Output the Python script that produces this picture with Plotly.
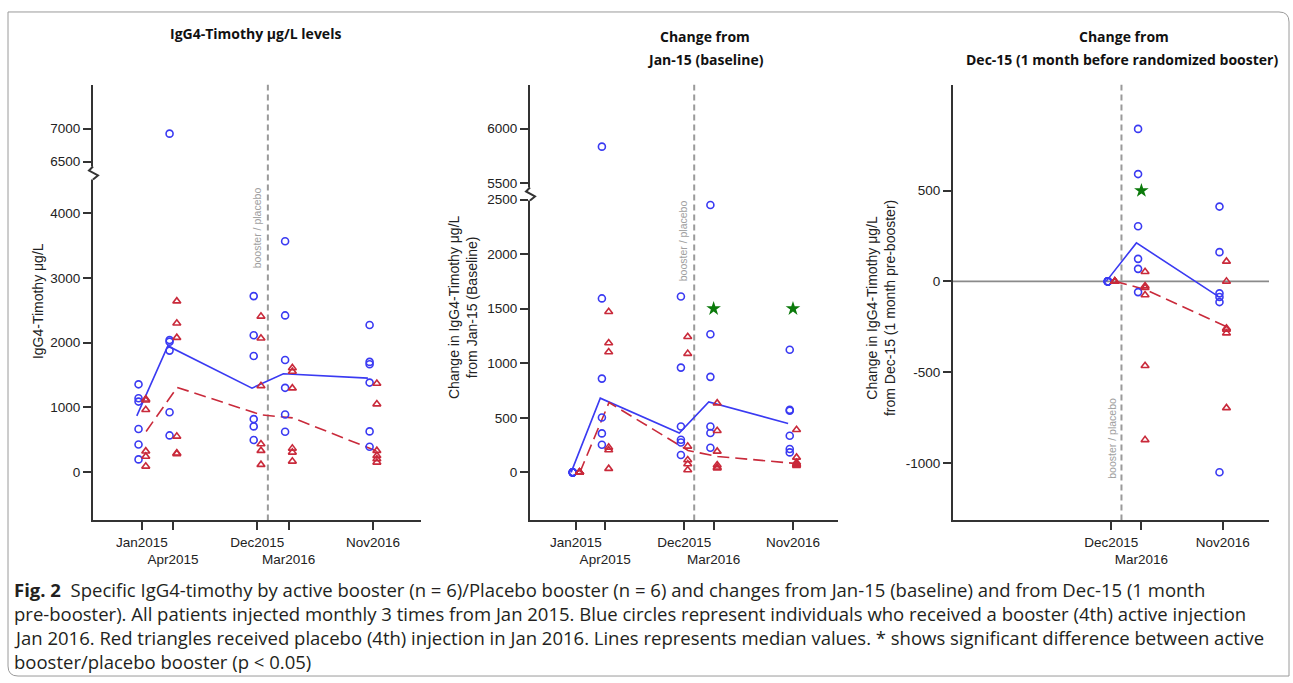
import pandas as pd
import plotly.graph_objects as go

W, H = 1293, 683


def fx(x):
    return x / W


def fy(y):
    return 1 - y / H


# ---------------- data ----------------
visit_dates = ["2015-01-01", "2015-04-01", "2015-12-01", "2016-03-01", "2016-11-01"]
visit_labels = ["Jan2015", "Apr2015", "Dec2015", "Mar2016", "Nov2016"]
post_dates = ["2015-12-01", "2016-03-01", "2016-11-01"]
post_labels = ["Dec2015", "Mar2016", "Nov2016"]
booster_date = "2016-01-01"

# Panel 1: IgG4-Timothy levels (µg/L)
p1_active = [
    [1357, 1143, 1091, 669, 428, 199],
    [6924, 2040, 2015, 1877, 927, 569],
    [2718, 2113, 1795, 821, 708, 498],
    [3565, 2420, 1733, 1303, 892, 626],
    [2272, 1703, 1667, 1384, 631, 395],
]
p1_placebo = [
    [1128, 1112, 964, 326, 245, 92],
    [2640, 2300, 2077, 554, 295, 285],
    [2405, 2067, 1333, 437, 334, 118],
    [1610, 1555, 1298, 369, 308, 169],
    [1369, 1052, 334, 257, 206, 154],
]
p1_active_median = [870, 1949, 1298, 1520, 1452]
p1_placebo_median = [630, 1310, 885, 840, 325]

# Panel 2: change from Jan-15
p2_active = [
    [0, 0, 0, 0, 0, 0],
    [5835, 1594, 859, 503, 357, 253],
    [1612, 960, 420, 299, 274, 159],
    [2450, 1265, 875, 420, 360, 226],
    [1124, 573, 564, 335, 214, 183],
]
p2_placebo = [
    [0, 0, 0, 0, 0, 0],
    [1472, 1185, 1103, 229, 205, 34],
    [1243, 1088, 238, 113, 77, 22],
    [634, 381, 192, 67, 46, 37],
    [390, 137, 90, 77, 70, 62],
]
p2_active_median = [0, 680, 360, 646, 448]
p2_placebo_median = [0, 640, 200, 146, 80]
p2_star_dates = ["2016-03-01", "2016-11-01"]
p2_star_values = [1500, 1500]

# Panel 3: change from Dec-15
p3_active = [
    [0, 0, 0, 0, 0, 0],
    [840, 591, 304, 124, 69, -59],
    [412, 161, -66, -86, -114, -1051],
]
p3_placebo = [
    [0, 0, 0, 0, 0, 0],
    [53, -26, -35, -75, -465, -873],
    [110, 0, -258, -265, -285, -697],
]
p3_active_median = [0, 212, -81]
p3_placebo_median = [0, -45, -250]
p3_star_dates = ["2016-03-01"]
p3_star_values = [500]

# ---------------- styling ----------------
BLUE = "#3a3af2"
RED = "#c92a3b"
GREEN = "#0b7a0b"
AXC = "#333333"
TICKFONT = dict(family="Liberation Sans, Arial, sans-serif", size=13.5, color="#222222")
X_RANGE = ["2014-08-12", "2017-03-20"]
BOTTOM, TOP = 520, 83


def shift(d, days):
    return pd.Timestamp(d) + pd.Timedelta(days=days)


def expand(dates, groups, days):
    xs, ys = [], []
    for d, g in zip(dates, groups):
        xs += [shift(d, days)] * len(g)
        ys += list(g)
    return xs, ys


fig = go.Figure()


def add_panel(dates, active, placebo, a_med, p_med, xa, yas):
    # median lines
    fig.add_trace(go.Scatter(
        x=[shift(d, -15) for d in dates], y=a_med, mode="lines",
        line=dict(color=BLUE, width=1.6), xaxis=xa, yaxis=yas[0],
        showlegend=False, hoverinfo="skip"))
    fig.add_trace(go.Scatter(
        x=[shift(d, 12) for d in dates], y=p_med, mode="lines",
        line=dict(color=RED, width=1.6, dash="12px,6px"), xaxis=xa, yaxis=yas[0],
        showlegend=False, hoverinfo="skip"))
    for ya in yas:
        ax, ay = expand(dates, active, -10)
        fig.add_trace(go.Scatter(
            x=ax, y=ay, mode="markers", xaxis=xa, yaxis=ya, showlegend=False,
            marker=dict(symbol="circle-open", size=7, color=BLUE, line=dict(width=1.6))))
        px_, py_ = expand(dates, placebo, 11)
        fig.add_trace(go.Scatter(
            x=px_, y=py_, mode="markers", xaxis=xa, yaxis=ya, showlegend=False,
            marker=dict(symbol="triangle-up-open", size=7, color=RED, line=dict(width=1.6))))


add_panel(visit_dates, p1_active, p1_placebo, p1_active_median, p1_placebo_median, "x", ["y", "y2"])
add_panel(visit_dates, p2_active, p2_placebo, p2_active_median, p2_placebo_median, "x2", ["y3", "y4"])
add_panel(post_dates, p3_active, p3_placebo, p3_active_median, p3_placebo_median, "x3", ["y5"])

fig.add_trace(go.Scatter(x=p2_star_dates, y=p2_star_values, mode="markers", xaxis="x2", yaxis="y3",
                         showlegend=False, marker=dict(symbol="star", size=11, color=GREEN)))
fig.add_trace(go.Scatter(x=p3_star_dates, y=p3_star_values, mode="markers", xaxis="x3", yaxis="y5",
                         showlegend=False, marker=dict(symbol="star", size=11, color=GREEN)))

# ---------------- axes ----------------
common_axis = dict(showline=True, linecolor=AXC, linewidth=2, ticks="outside", ticklen=8,
                   tickwidth=2, tickcolor=AXC, showgrid=False, zeroline=False, tickfont=TICKFONT)

panels_px = {"x": (93, 421), "x2": (530, 838), "x3": (953, 1269)}
break1, break2 = 172, 193


def xaxis_cfg(key, anchor, vals, labels):
    stag = [lab if i % 2 == 0 else "<br>" + lab for i, lab in enumerate(labels)]
    a, b = panels_px[key]
    return dict(common_axis, domain=[fx(a), fx(b)], anchor=anchor, type="date", range=X_RANGE,
                tickvals=vals, ticktext=stag, tickangle=0)


fig.update_layout(
    xaxis=xaxis_cfg("x", "y", visit_dates, visit_labels),
    xaxis2=xaxis_cfg("x2", "y3", visit_dates, visit_labels),
    xaxis3=xaxis_cfg("x3", "y5", post_dates, post_labels),
    yaxis=dict(common_axis, domain=[fy(BOTTOM), fy(break1)], anchor="x", range=[-743, 4609],
               tickvals=[0, 1000, 2000, 3000, 4000]),
    yaxis2=dict(common_axis, domain=[fy(break1), fy(TOP)], anchor="x", range=[6318, 7667],
                tickvals=[6500, 7000]),
    yaxis3=dict(common_axis, domain=[fy(BOTTOM), fy(break2)], anchor="x2", range=[-441, 2547],
                tickvals=[0, 500, 1000, 1500, 2000, 2500]),
    yaxis4=dict(common_axis, domain=[fy(break2), fy(TOP)], anchor="x2", range=[5397, 6402],
                tickvals=[5500, 6000]),
    yaxis5=dict(common_axis, domain=[fy(BOTTOM), fy(TOP)], anchor="x3", range=[-1317, 1083],
                tickvals=[-1000, -500, 0, 500], ticktext=["-1000", "-500", "0", "500"]),
)

# ---------------- shapes ----------------
shapes = []
# booster / placebo dashed lines
for xa in ["x", "x2", "x3"]:
    shapes.append(dict(type="line", xref=xa, yref="paper", x0=booster_date, x1=booster_date,
                       y0=fy(BOTTOM), y1=fy(TOP), line=dict(color="#9a9a9a", width=2, dash="6px,4px"),
                       layer="below"))
# zero line in panel 3
shapes.append(dict(type="line", xref="x3 domain", yref="y5", x0=0, x1=1, y0=0, y1=0,
                   line=dict(color="#8a8a8a", width=1.6), layer="below"))


# axis break squiggles
def squiggle(x, y):
    shapes.append(dict(type="rect", xref="paper", yref="paper", x0=fx(x - 2), x1=fx(x + 2),
                       y0=fy(y + 6), y1=fy(y - 7), fillcolor="white", line=dict(width=0)))
    path = "M {} {} L {} {} L {} {} L {} {}".format(
        fx(x), fy(y - 7), fx(x - 4), fy(y - 3), fx(x + 5), fy(y + 2), fx(x), fy(y + 6))
    shapes.append(dict(type="path", xref="paper", yref="paper", path=path,
                       line=dict(color=AXC, width=2)))


squiggle(93, break1)
squiggle(530, break2)

# outer rounded border
r = 10
L, T, R, B = 8, 10, 1289, 676
border = ("M {} {} L {} {} L {} {} Q {} {} {} {} L {} {} L {} {} Q {} {} {} {}").format(
    fx(L), fy(B - r), fx(L), fy(T), fx(R - r), fy(T), fx(R), fy(T), fx(R), fy(T + r),
    fx(R), fy(B), fx(L + r), fy(B), fx(L), fy(B), fx(L), fy(B - r))
shapes.append(dict(type="path", xref="paper", yref="paper", path=border,
                   line=dict(color="#9a9a9a", width=1)))

fig.update_layout(shapes=shapes)

# ---------------- annotations ----------------
ann = []
TITLEFONT = dict(family="Open Sans, Liberation Sans, sans-serif", size=14, color="#111111")
LABFONT = dict(family="Liberation Sans, Arial, sans-serif", size=14, color="#222222")
GRAYFONT = dict(family="Liberation Sans, Arial, sans-serif", size=10.5, color="#a0a0a0")


def note(x, y, text, font, angle=0, xanchor="center", yanchor="middle", align="center"):
    ann.append(dict(x=fx(x), y=fy(y), xref="paper", yref="paper", text=text, showarrow=False,
                    font=font, textangle=angle, xanchor=xanchor, yanchor=yanchor, align=align))


note(255, 32, "<b>IgG4-Timothy μg/L levels</b>", TITLEFONT)
note(705, 35, "<b>Change from</b>", TITLEFONT)
note(705, 58, "<b>Jan-15 (baseline)</b>", TITLEFONT)
note(1124, 35, "<b>Change from</b>", TITLEFONT)
note(1122, 58, "<b>Dec-15 (1 month before randomized booster)</b>", TITLEFONT)

note(38, 300, "IgG4-Timothy μg/L", LABFONT, angle=-90)
note(463, 306, "Change in IgG4-Timothy μg/L<br>from Jan-15 (Baseline)", LABFONT, angle=-90)
note(881, 307, "Change in IgG4-Timothy μg/L<br>from Dec-15 (1 month pre-booster)", LABFONT, angle=-90)

note(257, 227, "booster / placebo", GRAYFONT, angle=-90)
note(683, 240, "booster / placebo", GRAYFONT, angle=-90)
note(1112, 438, "booster / placebo", GRAYFONT, angle=-90)

CAPFONT = dict(family="Open Sans, Noto Sans, sans-serif", size=18.5, color="#231f20")
caption_lines = [
    "<b>Fig. 2</b>  Specific IgG4-timothy by active booster (n = 6)/Placebo booster (n = 6) and changes from Jan-15 (baseline) and from Dec-15 (1 month",
    "pre-booster). All patients injected monthly 3 times from Jan 2015. Blue circles represent individuals who received a booster (4th) active injection",
    "Jan 2016. Red triangles received placebo (4th) injection in Jan 2016. Lines represents median values. * shows significant difference between active",
    "booster/placebo booster (p < 0.05)",
]
for i, line in enumerate(caption_lines):
    note(12, 589 + 24 * i, line, CAPFONT, xanchor="left", align="left")

fig.update_layout(
    annotations=ann,
    width=W, height=H, autosize=False,
    margin=dict(l=0, r=0, t=0, b=0),
    paper_bgcolor="white", plot_bgcolor="white",
    showlegend=False,
)

fig.write_html("out.html", config={"displayModeBar": False},
               post_script="document.body.style.margin='0';")
